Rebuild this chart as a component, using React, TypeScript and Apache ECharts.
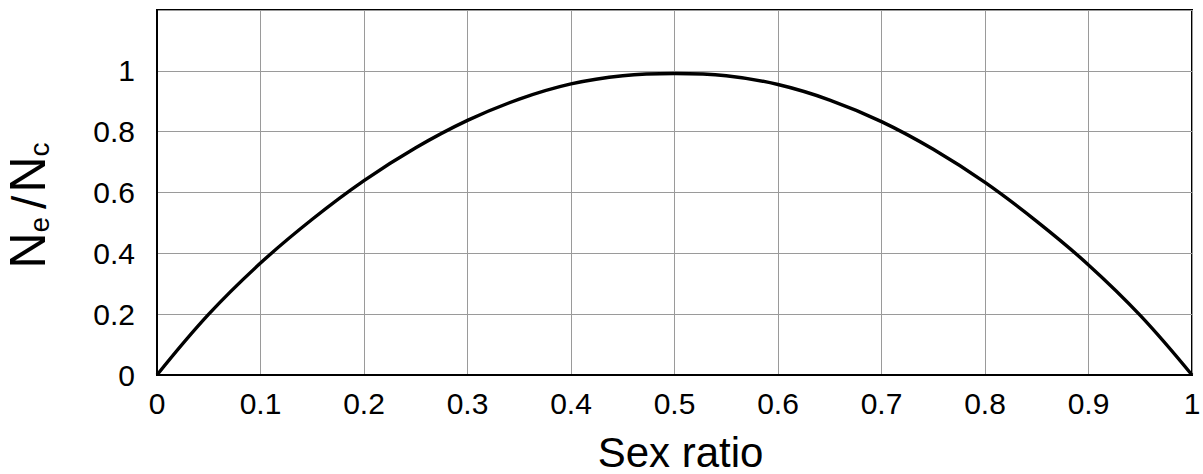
import React, { useEffect, useRef } from "react";
import * as echarts from "echarts";

const sexRatio = [0, 0.05, 0.1, 0.15, 0.2, 0.25, 0.3, 0.35, 0.4, 0.45, 0.5, 0.55, 0.6, 0.65, 0.7, 0.75, 0.8, 0.85, 0.9, 0.95, 1];
const neOverNc = [0, 0.2, 0.368, 0.512, 0.639, 0.747, 0.837, 0.907, 0.957, 0.984, 0.991, 0.984, 0.955, 0.904, 0.833, 0.742, 0.633, 0.505, 0.362, 0.196, 0];
const xTicks = ["0", "0.1", "0.2", "0.3", "0.4", "0.5", "0.6", "0.7", "0.8", "0.9", "1"];
const yTicks = ["0", "0.2", "0.4", "0.6", "0.8", "1"];

const FONT = "'Liberation Sans', Arial, Helvetica, sans-serif";

export default function App() {
  const ref = useRef<HTMLDivElement>(null);
  useEffect(() => {
    if (!ref.current) return;
    const chart = echarts.init(ref.current, undefined, { renderer: "svg" });
    const data = sexRatio.map((x, i) => [x, neOverNc[i]]);
    chart.setOption({
      animation: false,
      backgroundColor: "#ffffff",
      grid: {
        left: 157,
        right: 11,
        top: 10,
        bottom: 99,
        containLabel: false,
        outerBoundsMode: "none",
        show: true,
        borderColor: "#000",
        borderWidth: 2,
        backgroundColor: "transparent",
      },
      xAxis: {
        type: "value",
        min: 0,
        max: 1,
        interval: 0.1,
        name: "Sex ratio",
        nameLocation: "middle",
        nameGap: 57,
        nameTextStyle: { fontSize: 42, lineHeight: 40, color: "#000", fontFamily: FONT, padding: [0, 0, 0, 12] },
        axisLine: { show: true, lineStyle: { color: "#000", width: 2 } },
        axisTick: { show: false },
        axisLabel: {
          fontSize: 30,
          color: "#000",
          fontFamily: FONT,
          margin: 13,
          formatter: (v: number) => {
            const idx = Math.round(v * 10);
            return xTicks[idx] ?? "";
          },
        },
        splitLine: { show: true, lineStyle: { color: "#9a9a9a", width: 1 } },
      },
      yAxis: {
        type: "value",
        min: 0,
        max: 1.2,
        interval: 0.2,
        name: "{n|N}{s|e}{sl|/}{n|N}{s|c}",
        nameLocation: "middle",
        nameRotate: 90,
        nameGap: 104,
        nameTextStyle: {
          color: "#000",
          fontFamily: FONT,
          padding: [0, 26, 0, 0],
          rich: {
            n: { fontSize: 50, color: "#000", fontFamily: FONT, lineHeight: 52, verticalAlign: "bottom" },
            s: { fontSize: 28, color: "#000", fontFamily: FONT, lineHeight: 36, verticalAlign: "bottom" },
            sl: { fontSize: 48, color: "#000", fontFamily: FONT, lineHeight: 52, verticalAlign: "bottom", padding: [0, 3, 0, 8] },
          },
        },
        axisLine: { show: true, lineStyle: { color: "#000", width: 2 } },
        axisTick: { show: false },
        axisLabel: {
          fontSize: 30,
          color: "#000",
          fontFamily: FONT,
          margin: 22,
          formatter: (v: number) => {
            const idx = Math.round(v * 5);
            return yTicks[idx] ?? "";
          },
        },
        splitLine: { show: true, lineStyle: { color: "#9a9a9a", width: 1 } },
      },
      series: [
        {
          type: "line",
          data,
          smooth: 0.4,
          showSymbol: false,
          lineStyle: { color: "#000", width: 3.4 },
          z: 5,
        },
      ],
    });
    return () => chart.dispose();
  }, []);
  return <div ref={ref} style={{ position: "absolute", left: 0, top: 0, width: 1203, height: 474 }} />;
}
